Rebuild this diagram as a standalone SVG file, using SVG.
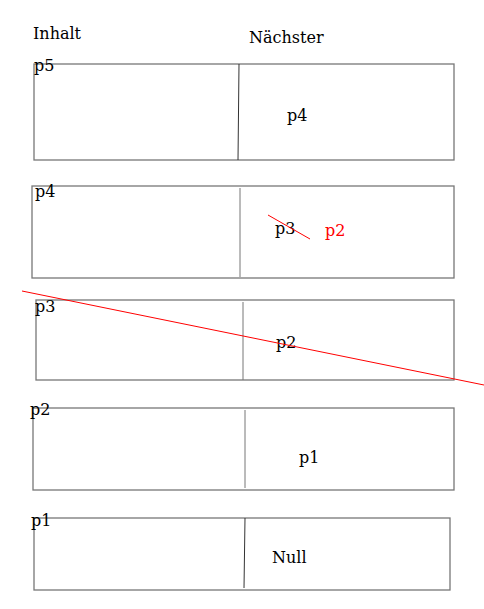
<svg xmlns="http://www.w3.org/2000/svg" width="484" height="609" viewBox="0 0 484 609">
<style>
text{font-family:"DejaVu Serif","Liberation Serif",serif;font-size:16px;fill:#000}
.box{fill:none;stroke:#777;stroke-width:1.3}
.div{fill:none;stroke:#777;stroke-width:1}
.red{stroke:#f00;stroke-width:1;fill:none}
text.r{fill:#f00}
</style>
<rect width="484" height="609" fill="#fff"/>
<g id="headers">
<text x="33" y="39">Inhalt</text>
<text x="249" y="43">Nächster</text>
</g>
<g id="node-p5">
<rect class="box" x="34" y="64" width="420" height="96"/>
<line class="div" x1="239" y1="64" x2="238" y2="160" style="stroke:#333"/>
<text x="34" y="71">p5</text>
<text x="287" y="121">p4</text>
</g>
<g id="node-p4">
<rect class="box" x="32" y="186" width="422" height="92"/>
<line class="div" x1="240" y1="188" x2="240" y2="277"/>
<text x="35" y="197">p4</text>
<text x="275" y="234">p3</text>
<text class="r" x="325" y="236">p2</text>
</g>
<g id="node-p3">
<rect class="box" x="36" y="300" width="418" height="80"/>
<line class="div" x1="243" y1="302" x2="243" y2="380"/>
<text x="35" y="312">p3</text>
<text x="276" y="348">p2</text>
</g>
<g id="node-p2">
<rect class="box" x="33" y="408" width="421" height="82"/>
<line class="div" x1="245" y1="410" x2="245" y2="488"/>
<text x="30" y="415">p2</text>
<text x="299" y="463">p1</text>
</g>
<g id="node-p1">
<rect class="box" x="34" y="518" width="416" height="72"/>
<line class="div" x1="245" y1="518" x2="244" y2="588" style="stroke:#333"/>
<text x="31" y="526">p1</text>
<text x="272" y="563">Null</text>
</g>
<g id="connectors">
<line class="red" x1="268" y1="215" x2="310" y2="239"/>
<line class="red" x1="22" y1="291" x2="484" y2="385"/>
</g>
</svg>
